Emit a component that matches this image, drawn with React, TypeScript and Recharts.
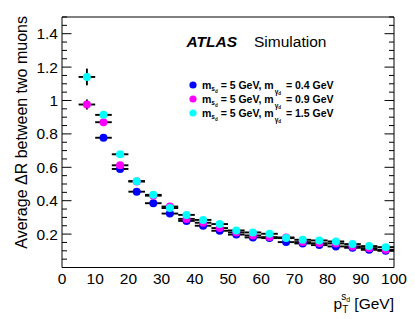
import { ErrorBar, Scatter, ScatterChart, XAxis, YAxis } from "recharts";

// bin centres in pT [GeV], each bin is 5 GeV wide
const binCenters = [
  7.5, 12.5, 17.5, 22.5, 27.5, 32.5, 37.5, 42.5, 47.5, 52.5, 57.5, 62.5, 67.5,
  72.5, 77.5, 82.5, 87.5, 92.5, 97.5,
];
const binHalfWidth = 2.5;

// average dR, m_gamma = 0.4 GeV (first bin hidden under the 0.9 point)
const blueVals = [
  null, 0.777, 0.59, 0.454, 0.385, 0.323, 0.279, 0.25, 0.22, 0.197, 0.18,
  0.176, 0.152, 0.144, 0.134, 0.126, 0.118, 0.106, 0.1,
];
const blueErrs = [
  0, 0.012, 0.008, 0.006, 0.005, 0.005, 0.004, 0.004, 0.004, 0.004, 0.004,
  0.004, 0.004, 0.004, 0.004, 0.004, 0.004, 0.004, 0.004,
];

// m_gamma = 0.9 GeV
const magentaVals = [
  0.976, 0.87, 0.612, 0.515, 0.43, 0.365, 0.291, 0.268, 0.236, 0.21, 0.192,
  0.182, 0.18, 0.152, 0.145, 0.144, 0.126, 0.116, 0.106,
];
const magentaErrs = [
  0.03, 0.012, 0.008, 0.006, 0.005, 0.005, 0.004, 0.004, 0.004, 0.004, 0.004,
  0.004, 0.004, 0.004, 0.004, 0.004, 0.004, 0.004, 0.004,
];

// m_gamma = 1.5 GeV
const cyanVals = [
  1.141, 0.914, 0.678, 0.517, 0.435, 0.356, 0.315, 0.285, 0.26, 0.222, 0.21,
  0.202, 0.176, 0.166, 0.162, 0.156, 0.14, 0.128, 0.122,
];
const cyanErrs = [
  0.05, 0.015, 0.01, 0.007, 0.006, 0.005, 0.005, 0.004, 0.004, 0.004, 0.004,
  0.004, 0.004, 0.004, 0.004, 0.004, 0.004, 0.004, 0.004,
];

const xTickLabels = [0, 10, 20, 30, 40, 50, 60, 70, 80, 90, 100];
const yTickLabels = [0.2, 0.4, 0.6, 0.8, 1, 1.2, 1.4];

const series = [
  { name: "0.4", color: "#0000ff", vals: blueVals, errs: blueErrs },
  { name: "0.9", color: "#ff00ff", vals: magentaVals, errs: magentaErrs },
  { name: "1.5", color: "#00ffff", vals: cyanVals, errs: cyanErrs },
];

const W = 415;
const H = 319;
const FONT = "'Liberation Sans', Arial, Helvetica, sans-serif";

// minor tick positions for the ROOT-style frame
const xMinor = Array.from({ length: 51 }, (_, i) => i * 2);
const yMinor = Array.from({ length: 31 }, (_, i) => +(i * 0.05).toFixed(2));

const isXMajor = (v: number) => Math.round(v) % 10 === 0;
const isYMajor = (v: number) => Math.round(v * 100) % 20 === 0;

const BottomTick = (p: any) => (
  <line x1={p.x} x2={p.x} y1={p.y} y2={p.y - (isXMajor(p.payload.value) ? 7 : 3.5)} stroke="#000" />
);
const TopTick = (p: any) => (
  <line x1={p.x} x2={p.x} y1={p.y} y2={p.y + (isXMajor(p.payload.value) ? 7 : 3.5)} stroke="#000" />
);
const LeftTick = (p: any) => (
  <line y1={p.y} y2={p.y} x1={p.x} x2={p.x + (isYMajor(p.payload.value) ? 9.5 : 5)} stroke="#000" />
);
const RightTick = (p: any) => (
  <line y1={p.y} y2={p.y} x1={p.x} x2={p.x - (isYMajor(p.payload.value) ? 9.5 : 5)} stroke="#000" />
);

export default function App() {
  const datasets = series.map((s) =>
    binCenters
      .map((x, i) => ({ x, y: s.vals[i], ex: binHalfWidth, ey: s.errs[i] }))
      .filter((d) => d.y != null),
  );

  return (
    <div style={{ position: "relative", width: W, height: H, background: "#fff", fontFamily: FONT }}>
      <style>{`body{margin:0}`}</style>
      <ScatterChart width={W} height={H} margin={{ top: 17, right: 21, bottom: 21.5, left: 0 }}>
        <XAxis
          type="number"
          dataKey="x"
          domain={[0, 100]}
          ticks={xTickLabels}
          interval={0}
          height={30}
          tickLine={false}
          axisLine={false}
          tickSize={0}
          tickMargin={5}
          tick={{ fill: "#000", fontSize: 15.5, fontFamily: FONT }}
          allowDataOverflow
        />
        <YAxis
          type="number"
          dataKey="y"
          domain={[0, 1.5]}
          ticks={yTickLabels}
          interval={0}
          width={62}
          tickLine={false}
          axisLine={false}
          tickSize={0}
          tickMargin={4}
          tick={{ fill: "#000", fontSize: 15.5, fontFamily: FONT }}
          allowDataOverflow
        />
        {/* frame + inward ticks on all four sides */}
        <XAxis xAxisId="bt" type="number" domain={[0, 100]} ticks={xMinor} interval={0} mirror
          tickSize={0} tickMargin={0} tickLine={false} tick={BottomTick} axisLine={{ stroke: "#000" }} allowDataOverflow />
        <XAxis xAxisId="tp" orientation="top" type="number" domain={[0, 100]} ticks={xMinor} interval={0} mirror
          tickSize={0} tickMargin={0} tickLine={false} tick={TopTick} axisLine={{ stroke: "#000" }} allowDataOverflow />
        <YAxis yAxisId="lt" type="number" domain={[0, 1.5]} ticks={yMinor} interval={0} mirror
          tickSize={0} tickMargin={0} tickLine={false} tick={LeftTick} axisLine={{ stroke: "#000" }} allowDataOverflow />
        <YAxis yAxisId="rt" orientation="right" type="number" domain={[0, 1.5]} ticks={yMinor} interval={0} mirror
          tickSize={0} tickMargin={0} tickLine={false} tick={RightTick} axisLine={{ stroke: "#000" }} allowDataOverflow />
        {series.map((s, k) => (
          <Scatter
            key={s.name}
            name={s.name}
            data={datasets[k]}
            fill={s.color}
            isAnimationActive={false}
            shape={(p: any) => <circle cx={p.cx} cy={p.cy} r={4} fill={s.color} />}
          >
            <ErrorBar dataKey="ex" direction="x" width={0} stroke="#000" strokeWidth={1.9} />
            <ErrorBar dataKey="ey" direction="y" width={0} stroke="#000" strokeWidth={1.9} />
          </Scatter>
        ))}
      </ScatterChart>
      <svg width={W} height={H} style={{ position: "absolute", left: 0, top: 0, pointerEvents: "none" }}>
        <text
          transform="translate(27,16) rotate(-90)"
          textAnchor="end"
          fontSize={16}
          fontFamily={FONT}
          fill="#000"
        >
          Average ΔR between two muons
        </text>
        <text x={394} y={309} textAnchor="end" fontSize={15.5} fontFamily={FONT} fill="#000">
          p
          <tspan dy={4} fontSize={10}>T</tspan>
          <tspan dx={-6} dy={-13} fontSize={10}>s</tspan>
          <tspan dy={2} fontSize={7}>d</tspan>
          <tspan dy={7} fontSize={15.5}> [GeV]</tspan>
        </text>
        <text x={186.5} y={46.5} fontSize={15.5} fontFamily={FONT} fill="#000">
          <tspan fontWeight="bold" fontStyle="italic">ATLAS</tspan>
          <tspan x={254}>Simulation</tspan>
        </text>
        {series.map((s, i) => (
          <g key={s.name}>
            <circle cx={193} cy={85 + i * 14} r={3.6} fill={s.color} />
            <text x={202} y={88.5 + i * 14} fontSize={10.5} fontWeight="bold" fontFamily={FONT} fill="#000">
              m
              <tspan dy={2.5} fontSize={6.5}>s</tspan>
              <tspan dy={1.5} fontSize={4.5}>d</tspan>
              <tspan dy={-4}> = 5 GeV, m</tspan>
              <tspan dx={1} dy={5} fontSize={6.5}>γ</tspan>
              <tspan dy={1.5} fontSize={4.5}>d</tspan>
              <tspan dx={2} dy={-6.5}>{` = ${s.name} GeV`}</tspan>
            </text>
          </g>
        ))}
      </svg>
    </div>
  );
}
